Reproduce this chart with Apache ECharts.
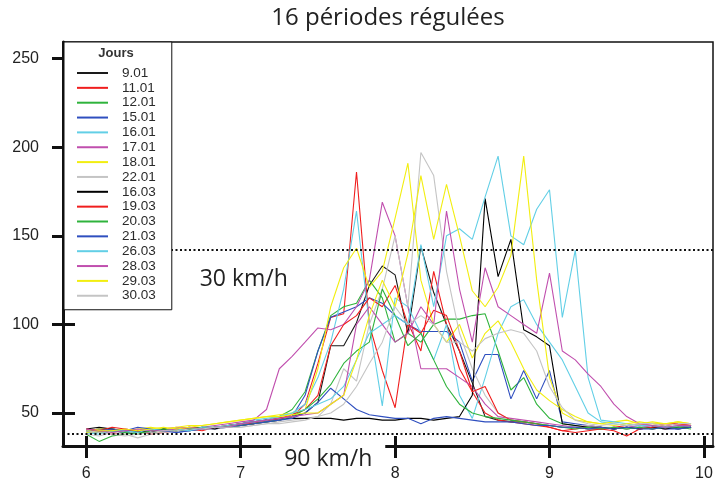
<!DOCTYPE html>
<html>
<head>
<meta charset="utf-8">
<script src="https://cdn.jsdelivr.net/npm/echarts@6/dist/echarts.min.js"></script>
<style>
    html, body { margin: 0; padding: 0; background: #fff; }
    #chart { width: 725px; height: 488px; }
</style>
</head>
<body>
<div id="chart"></div>
<script>
// heures (pas de 5 min)
var heures = [6.000, 6.083, 6.167, 6.250, 6.333, 6.417, 6.500, 6.583, 6.667, 6.750, 6.833, 6.917,
              7.000, 7.083, 7.167, 7.250, 7.333, 7.417, 7.500, 7.583, 7.667, 7.750, 7.833, 7.917,
              8.000, 8.083, 8.167, 8.250, 8.333, 8.417, 8.500, 8.583, 8.667, 8.750, 8.833, 8.917,
              9.000, 9.083, 9.167, 9.250, 9.333, 9.417, 9.500, 9.583, 9.667, 9.750, 9.833, 9.917];

var jours = ['9.01', '11.01', '12.01', '15.01', '16.01', '17.01', '18.01', '22.01',
             '16.03', '19.03', '20.03', '21.03', '26.03', '28.03', '29.03', '30.03'];

var couleurs = ['#1a1a1a', '#f01e1e', '#2fb33c', '#2f4fbf', '#62cfe6', '#c04fae', '#f2ee10', '#c4c4c4',
                '#000000', '#f01e1e', '#2fb33c', '#2f4fbf', '#62cfe6', '#c04fae', '#f2ee10', '#c4c4c4'];

var j0901 = [40,41,41,40,39,39,40,41,40,41,42,42,43,44,46,47,
             48,50,56,88,88,101,122,133,128,95,144,118,100,85,67,48,
             46,45,45,44,43,42,42,41,41,42,41,42,41,42,41,42];
var j1101 = [39,40,38,39,40,38,39,40,41,40,42,42,43,44,45,46,
             48,55,78,104,106,186,100,74,53,101,85,130,100,75,62,50,
             46,45,44,43,42,40,41,42,41,42,43,44,43,44,44,43];
var j1201 = [38,34,37,38,39,39,40,40,41,41,42,43,44,45,46,48,
             52,62,85,105,110,112,125,115,90,95,90,100,103,103,105,106,
             85,63,70,55,47,44,43,42,42,41,42,41,42,43,42,42];
var j1501 = [40,41,40,39,40,41,40,39,40,41,41,42,43,44,45,46,
             48,60,85,104,107,110,115,112,105,100,96,96,96,90,68,83,
             83,58,74,58,74,45,44,43,42,41,42,41,42,41,41,42];
var j1601 = [38,39,40,39,40,40,41,41,42,41,42,43,44,46,47,48,
             50,55,70,90,120,164,100,54,115,110,95,80,100,60,47,70,
             95,110,114,100,90,80,65,50,45,44,43,42,43,42,42,43];
var j1701 = [40,39,40,41,40,39,41,42,41,42,43,44,45,46,52,75,
             82,90,98,97,100,110,125,169,150,110,75,75,75,70,65,55,
             48,47,46,45,44,43,42,43,42,41,42,43,42,41,42,42];
var j1801 = [40,41,41,40,41,42,41,42,43,43,44,45,46,47,48,49,
             50,52,75,110,132,143,121,130,160,191,125,100,90,100,81,95,
             102,90,75,63,57,52,48,45,44,45,46,44,45,44,45,44];
var j2201 = [38,37,39,38,36,38,39,40,40,41,41,42,42,43,44,45,
             46,47,48,55,75,68,100,120,150,110,197,184,130,95,75,60,
             50,46,45,44,43,42,42,43,42,42,41,42,42,41,42,42];
var j1603 = [41,42,41,40,40,39,41,40,41,42,41,43,44,45,46,47,
             47,47,47,47,46,47,47,46,46,47,47,46,47,48,60,171,
             127,148,97,93,88,44,43,42,42,41,42,41,42,41,42,42];
var j1903 = [41,40,42,41,40,41,40,41,42,41,42,43,44,44,46,47,
             49,52,60,88,100,105,115,110,122,100,95,108,105,85,62,65,
             50,46,45,44,42,40,39,40,41,40,37,41,42,43,44,43];
var j2003 = [40,39,40,39,38,40,41,40,41,42,42,42,43,44,45,46,
             48,52,58,66,78,85,90,120,105,88,95,80,65,55,50,48,
             47,46,45,44,43,42,41,42,41,42,41,42,41,42,42,41];
var j2103 = [39,40,41,40,42,41,40,39,40,41,42,42,43,44,45,46,
             47,50,56,64,58,52,49,48,47,47,44,47,48,47,46,45,
             45,45,44,43,43,42,42,41,42,41,42,41,41,42,41,42];
var j2603 = [39,38,40,40,39,41,40,41,40,42,42,43,44,45,46,48,
             50,52,55,58,65,80,95,100,105,100,145,110,150,154,148,172,
             195,150,145,165,176,104,142,70,46,45,44,43,43,42,43,43];
var j2803 = [41,40,39,40,41,40,40,41,42,41,42,42,44,45,46,47,
             48,49,50,55,60,100,110,100,90,95,110,100,164,120,90,132,
             110,105,100,95,129,85,80,72,65,55,48,44,43,42,43,43];
var j2903 = [39,40,40,41,40,41,42,41,42,43,44,45,46,47,48,48,
             49,50,50,55,60,80,105,125,110,140,184,148,179,150,119,110,
             121,139,195,125,70,50,46,45,44,43,44,45,44,44,45,44];
var j3003 = [40,39,38,37,38,39,40,40,41,41,42,42,42,43,44,44,
             45,46,48,50,55,65,78,90,110,100,105,100,90,90,85,92,
             95,97,95,85,65,53,46,44,43,44,43,44,44,43,44,44];

var valeurs = [j0901, j1101, j1201, j1501, j1601, j1701, j1801, j2201,
               j1603, j1903, j2003, j2103, j2603, j2803, j2903, j3003];

var xTicks = [6, 7, 8, 9, 10];
var yTicks = [50, 100, 150, 200, 250];

var seuil30 = 142.1;   // 30 km/h
var seuil90 = 38.5;    // 90 km/h

var xMin = 5.849, xMax = 10.059;
var yMin = 31.4,  yMax = 259.4;

var fontAxe = "'Liberation Sans', Arial, sans-serif";
var fontTexte = "'Open Sans', sans-serif";

function axeX(gridIndex, inside) {
    return {
        type: 'value', gridIndex: gridIndex, min: xMin, max: xMax,
        axisLine: { show: !inside, lineStyle: { color: '#111', width: 3 } },
        axisTick: { show: true, inside: inside, length: inside ? 10 : 12, customValues: xTicks,
                    lineStyle: { color: '#111', width: 3 } },
        axisLabel: { show: !inside, customValues: xTicks, margin: 20, fontSize: 16,
                     fontFamily: fontAxe, color: '#222' },
        splitLine: { show: false }
    };
}

function axeY(gridIndex, inside) {
    return {
        type: 'value', gridIndex: gridIndex, min: yMin, max: yMax,
        axisLine: { show: !inside, lineStyle: { color: '#111', width: 3 } },
        axisTick: { show: true, inside: inside, length: inside ? 12 : 11, customValues: yTicks,
                    lineStyle: { color: '#111', width: 3 } },
        axisLabel: { show: !inside, customValues: yTicks, margin: 24, fontSize: 16,
                     fontFamily: fontAxe, color: '#222' },
        splitLine: { show: false }
    };
}

var series = jours.map(function(jour, i) {
    return {
        name: jour,
        type: 'line',
        xAxisIndex: 0, yAxisIndex: 0,
        symbol: 'none',
        lineStyle: { width: 1.1, color: couleurs[i] },
        itemStyle: { color: couleurs[i] },
        data: valeurs[i].map(function(v, k) { return [heures[k], v]; })
    };
});

// seuils et textes
series.push({
    name: 'seuils',
    type: 'line',
    xAxisIndex: 0, yAxisIndex: 0,
    data: [],
    clip: false,
    silent: true,
    markLine: {
        symbol: 'none', silent: true,
        label: { show: false },
        lineStyle: { color: '#111', type: [2, 2.5], width: 2 },
        data: [{ yAxis: seuil30 }, { yAxis: seuil90 }]
    },
    markPoint: {
        silent: true,
        data: [
            { coord: [7.567, yMin], symbol: 'rect', symbolSize: [114, 12],
              itemStyle: { color: '#fff' },
              label: { show: true, formatter: '90 km/h', position: 'inside', offset: [0, 13],
                       fontFamily: fontTexte, fontSize: 23, color: '#222' } },
            { coord: [7.02, 125.5], symbol: 'rect', symbolSize: [1, 1],
              itemStyle: { color: 'rgba(0,0,0,0)' },
              label: { show: true, formatter: '30 km/h', position: 'inside',
                       fontFamily: fontTexte, fontSize: 23, color: '#222' } }
        ]
    }
});

var chart = echarts.init(document.getElementById('chart'));
chart.setOption({
    animation: false,
    backgroundColor: '#fff',
    title: [
        { text: '16 périodes régulées', left: 388, top: 6, textAlign: 'center', padding: 0,
          textStyle: { fontFamily: fontTexte, fontSize: 24, fontWeight: 'normal', color: '#222' } },
        { text: 'Jours', left: 116, top: 47, textAlign: 'center', padding: 0, z: 20,
          textStyle: { fontFamily: "'Liberation Sans', sans-serif", fontSize: 13, fontWeight: 'bold', color: '#333' } }
    ],
    legend: {
        data: jours,
        z: 10,
        orient: 'vertical',
        left: 64, top: 42,
        padding: [24, 16, 7, 13],
        itemGap: 0.85,
        itemWidth: 31, itemHeight: 2,
        icon: 'rect',
        selectedMode: false,
        backgroundColor: '#fff',
        borderColor: '#111', borderWidth: 1,
        textStyle: { fontFamily: "'Liberation Sans', sans-serif", fontSize: 13.5, color: '#2a2a2a',
                     lineHeight: 14, padding: [0, 0, 0, 9] }
    },
    grid: [
        { left: 63, right: 12, top: 42, bottom: 42, show: true, borderColor: '#111', borderWidth: 1.5 },
        { left: 63, right: 12, top: 42, bottom: 42, show: false }
    ],
    xAxis: [axeX(0, false), axeX(1, true)],
    yAxis: [axeY(0, false), axeY(1, true)],
    series: series
});
</script>
</body>
</html>
